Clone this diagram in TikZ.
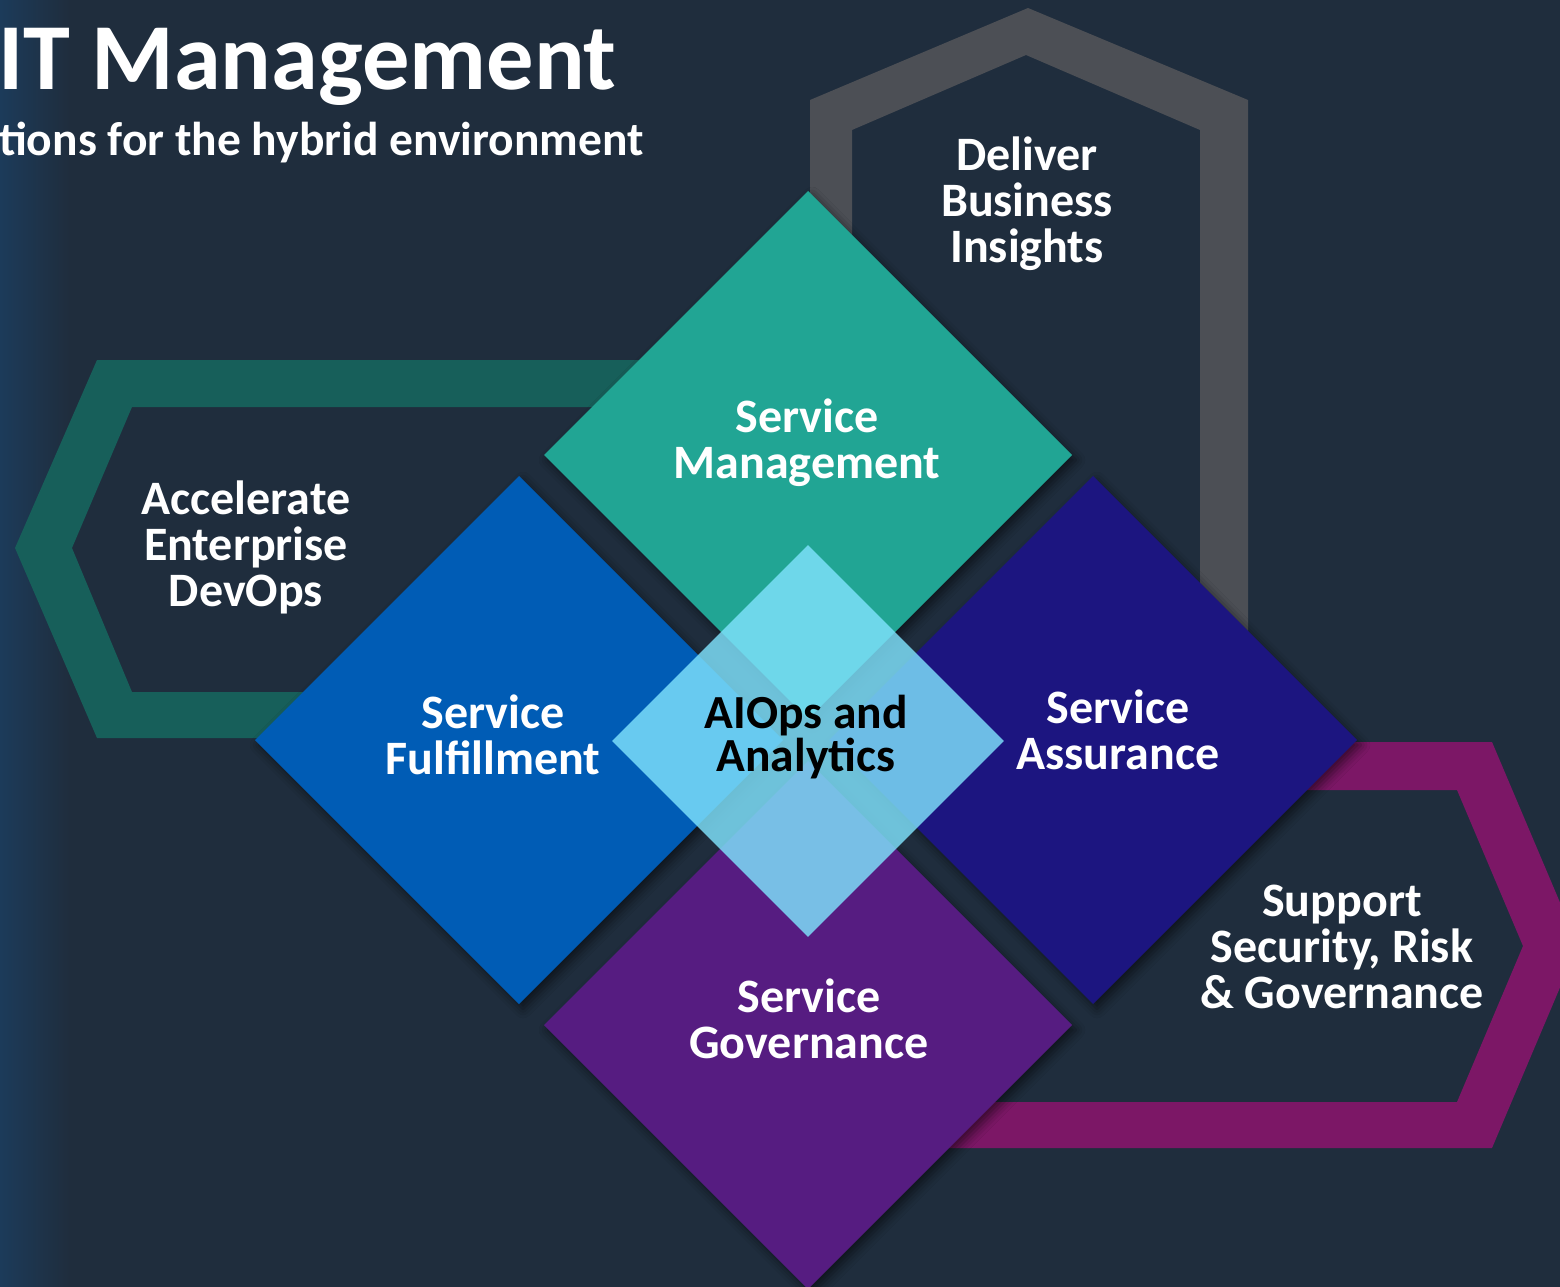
\documentclass[tikz,border=0pt]{standalone}
\usepackage{fontspec}
\setmainfont{Carlito}
\usepackage{tikz}
\usetikzlibrary{shapes.geometric, shadows.blur, positioning, calc}
\definecolor{bgdark}{HTML}{1F2D3D}
\definecolor{bgleft}{HTML}{1C3B5A}
\definecolor{devopsgreen}{HTML}{175F5A}
\definecolor{insightgray}{HTML}{4C4F55}
\definecolor{securemagenta}{HTML}{7C1766}
\definecolor{mgmtteal}{HTML}{21A594}
\definecolor{fulfilblue}{HTML}{005CB5}
\definecolor{assureindigo}{HTML}{1C1580}
\definecolor{govpurple}{HTML}{561C81}
\definecolor{aiopscyan}{HTML}{80E3FD}

\tikzset{
  svcdiamond/.style={diamond, inner sep=0pt, outer sep=0pt,
    minimum width=528pt, minimum height=528pt,
    blur shadow={shadow xshift=4pt, shadow yshift=-5pt,
      shadow blur radius=9pt, shadow opacity=55}},
  svclabel/.style={text=white, align=center,
    font=\fontsize{48}{46}\selectfont\bfseries},
}

\begin{document}
\begin{tikzpicture}[x=1pt, y=-1pt]
    \useasboundingbox (0,0) rectangle (1560,1287);
    \clip (0,0) rectangle (1560,1287);
    % Background with a lighter strip on the left
    \fill[bgdark] (0,0) rectangle (1560,1287);
    \fill[left color=bgleft, right color=bgdark] (0,0) rectangle (70,1287);

    % Title
    \node[anchor=base west, text=white, inner sep=0pt,
      font=\fontsize{94.5}{96}\selectfont\bfseries] (title) at (-2,90) {IT Management};
    \node[anchor=base west, text=white, inner sep=0pt,
      font=\fontsize{47.5}{48}\selectfont\bfseries] (subtitle) at (-1,155) {tions for the hybrid environment};

    % Bracket bands behind the diamonds
    \fill[devopsgreen] (680,360) -- (97,360) -- (15,548) -- (97,738) -- (340,738)
      -- (340,692) -- (132,692) -- (72,548) -- (132,407) -- (680,407) -- cycle;
    \fill[insightgray] (810,500) -- (810,100) -- (1028,8) -- (1248,100) -- (1248,700)
      -- (1200,700) -- (1200,130) -- (1026,55) -- (852,130) -- (852,500) -- cycle;
    \fill[securemagenta] (1250,742) -- (1492,742) -- (1578,945) -- (1492,1148) -- (900,1148)
      -- (900,1102) -- (1457,1102) -- (1523,946) -- (1457,790) -- (1250,790) -- cycle;

    % Bracket texts
    \node[svclabel] (insights) at (1027,204) {Deliver\\Business\\Insights};
    \node[svclabel] (devops) at (246,547) {Accelerate\\Enterprise\\DevOps};
    \node[svclabel] (security) at (1342,947) {Support\\Security, Risk\\\& Governance};

    % Service diamonds
    \node[svcdiamond, fill=mgmtteal] (mgmt) at (808,455) {};
    \node[svcdiamond, fill=fulfilblue] (fulfil) at (519,740) {};
    \node[svcdiamond, fill=assureindigo] (assure) at (1093,740) {};
    \node[svcdiamond, fill=govpurple] (gov) at (808,1025) {};

    \node[svclabel] (mgmtlabel) at (807,443) {Service\\Management};
    \node[svclabel] (fulfillabel) at (493,735) {Service\\Fulfillment};
    \node[svclabel] (assurelabel) at (1118,730) {Service\\Assurance};
    \node[svclabel] (govlabel) at (809,1019) {Service\\Governance};

    % Centre diamond
    \node[diamond, inner sep=0pt, minimum width=392pt, minimum height=392pt,
      fill=aiopscyan, fill opacity=0.82] (aiops) at (808,741) {};
    \node[svclabel, text=black, font=\fontsize{47.5}{43}\selectfont\bfseries]
      (aiopslabel) at (806,737) {AIOps and\\Analytics};
\end{tikzpicture}
\end{document}
